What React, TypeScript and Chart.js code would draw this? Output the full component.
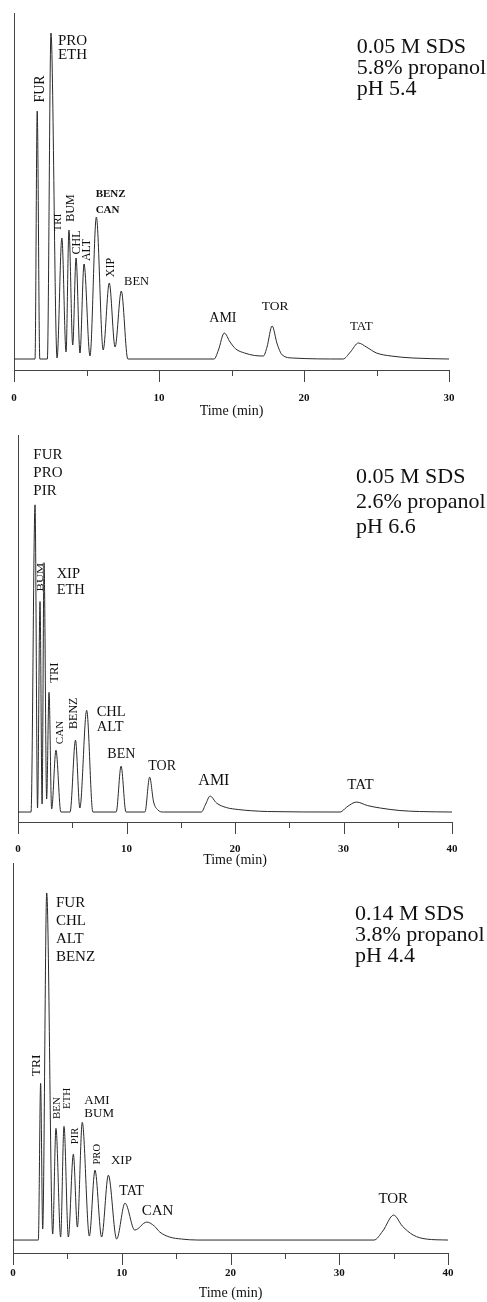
import React, { useEffect, useRef } from 'react';
import { Chart, registerables } from 'chart.js';

Chart.register(...registerables);

// ---------- DATA ----------
// Panel 1: 0.05 M SDS, 5.8% propanol, pH 5.4
const p1Time = [0, 1.45, 1.6, 1.78, 2.3, 2.55, 2.97, 3.3, 3.59, 3.79, 4.05, 4.28, 4.55, 4.83, 5.24, 5.68, 6.15, 6.57, 6.97, 7.4, 7.85, 13.8, 14.1, 14.5, 14.9, 15.3, 15.9, 16.6, 17.2, 17.45, 17.8, 18.15, 18.5, 19.2, 22.7, 23.2, 23.75, 24.3, 25.0, 26.0, 27.5, 30];
const p1Signal = [0, 0, 248, 0, 0, 326, 1, 121, 7, 129, 14, 101, 6, 95, 3, 142, 9, 76, 12, 68, 0, 0, 9, 26, 17, 10, 6, 3.5, 3, 12, 33, 15, 4, 1, 0, 7, 16, 12, 6, 3, 1, 0];
const p1PeakTexts = ['FUR', 'PRO\nETH', 'TRI', 'BUM', 'CHL', 'ALT', 'BENZ\nCAN', 'XIP', 'BEN', 'AMI', 'TOR', 'TAT'];
const p1Conditions = ['0.05 M SDS', '5.8% propanol', 'pH 5.4'];
const p1XMax = 30;

// Panel 2: 0.05 M SDS, 2.6% propanol, pH 6.6
const p2Time = [0, 1.2, 1.57, 1.8, 2.03, 2.22, 2.4, 2.64, 2.86, 3.1, 3.5, 3.95, 4.8, 5.3, 5.7, 6.33, 6.9, 9.05, 9.5, 9.95, 11.7, 12.13, 12.5, 12.9, 13.4, 16.9, 17.3, 17.7, 18.3, 19.2, 20.3, 21.5, 23, 29.7, 30.3, 31.2, 32.2, 33.4, 35.2, 37, 40];
const p2Signal = [0, 0, 308, 4, 211, 8, 250, 13, 120, 3, 62, 0, 0, 72, 4, 102, 0, 0, 46, 0, 0, 35, 10, 2, 0, 0, 8, 16, 9, 4.5, 2.5, 1.3, 0.5, 0, 5, 10, 6.5, 4, 1.5, 0.5, 0];
const p2PeakTexts = ['FUR\nPRO\nPIR', 'BUM', 'XIP\nETH', 'TRI', 'CAN', 'BENZ', 'CHL\nALT', 'BEN', 'TOR', 'AMI', 'TAT'];
const p2Conditions = ['0.05 M SDS', '2.6% propanol', 'pH 6.6'];
const p2XMax = 40;

// Panel 3: 0.14 M SDS, 3.8% propanol, pH 4.4
const p3Time = [0, 2.33, 2.54, 2.73, 3.1, 3.65, 3.95, 4.38, 4.69, 5.09, 5.55, 5.92, 6.37, 7.02, 7.54, 8.15, 8.77, 9.53, 10.3, 11.2, 12.3, 13.0, 13.5, 14.4, 15.5, 17, 33.2, 34.0, 35.0, 35.8, 36.8, 38.0, 40];
const p3Signal = [0, 0, 157, 11, 348, 6, 112, 3, 114, 3, 86, 13, 118, 4, 70, 3, 65, 1, 37, 10, 18, 14, 8, 3, 1, 0, 0, 9, 25, 14, 5, 1, 0];
const p3PeakTexts = ['FUR\nCHL\nALT\nBENZ', 'TRI', 'BEN', 'ETH', 'PIR', 'AMI\nBUM', 'PRO', 'XIP', 'TAT', 'CAN', 'TOR'];
const p3Conditions = ['0.14 M SDS', '3.8% propanol', 'pH 4.4'];
const p3XMax = 40;

const xTitle = 'Time (min)';
const tickStep = 5;
const tickLabelStep = 10;

// ---------- LAYOUT / STYLE ----------
const SERIF = "'Liberation Serif', 'DejaVu Serif', 'Times New Roman', serif";
const AXIS = '#444';
const TRACE = '#2a2a2a';
const INK = '#111';

type LabelLayout = { t: number; s: number; rot?: boolean; size: number; gap?: number; bold?: boolean; stretch?: number };

const p1Layout: LabelLayout[] = [
  { t: 1.83, s: 270, rot: true, size: 14 },
  { t: 3.03, s: 317.7, size: 15, gap: 14 },
  { t: 3.07, s: 136.5, rot: true, size: 11 },
  { t: 3.93, s: 151, rot: true, size: 12 },
  { t: 4.31, s: 116.5, rot: true, size: 12 },
  { t: 4.99, s: 109, rot: true, size: 12 },
  { t: 5.63, s: 164.5, size: 11, gap: 15.5, bold: true },
  { t: 6.66, s: 91.5, rot: true, size: 12 },
  { t: 7.59, s: 77, size: 12.5 },
  { t: 13.47, s: 40.7, size: 14 },
  { t: 17.08, s: 53, size: 13.5 },
  { t: 23.17, s: 32.3, size: 13 },
];
const p2Layout: LabelLayout[] = [
  { t: 1.41, s: 358, size: 15, gap: 18 },
  { t: 2.06, s: 235.5, rot: true, size: 9, stretch: 1.4 },
  { t: 3.56, s: 238, size: 14.5, gap: 16 },
  { t: 3.34, s: 139.7, rot: true, size: 12.5 },
  { t: 3.87, s: 79.7, rot: true, size: 11 },
  { t: 5.18, s: 99, rot: true, size: 12 },
  { t: 7.25, s: 99.7, size: 14.5, gap: 15 },
  { t: 8.23, s: 58, size: 14 },
  { t: 12.01, s: 46.3, size: 14 },
  { t: 16.62, s: 31.3, size: 16 },
  { t: 30.35, s: 27, size: 15 },
];
const p3Layout: LabelLayout[] = [
  { t: 3.95, s: 338, size: 15, gap: 18 },
  { t: 2.13, s: 175, rot: true, size: 13.5 },
  { t: 4.05, s: 132.3, rot: true, size: 11 },
  { t: 5.01, s: 142, rot: true, size: 11 },
  { t: 5.7, s: 104.3, rot: true, size: 10.5 },
  { t: 6.56, s: 140.3, size: 13, gap: 13.5 },
  { t: 7.77, s: 86, rot: true, size: 10.5 },
  { t: 9.01, s: 79.3, size: 13 },
  { t: 9.78, s: 49.3, size: 14 },
  { t: 11.83, s: 29.3, size: 15 },
  { t: 33.6, s: 41, size: 15 },
];

type PanelCfg = {
  top: number; height: number;
  pad: { top: number; left: number; right: number };
  xScaleHeight: number; tickPad: number;
  yMin: number; yMax: number; xMax: number;
  time: number[]; signal: number[];
  texts: string[]; layout: LabelLayout[];
  cond: string[]; condAt: { t: number; s: number; gap: number; size: number };
};

const panels: PanelCfg[] = [
  {
    top: 0, height: 420, pad: { top: 13, left: 14, right: 38 }, xScaleHeight: 50, tickPad: 22,
    yMin: -11, yMax: 346, xMax: p1XMax, time: p1Time, signal: p1Signal,
    texts: p1PeakTexts, layout: p1Layout, cond: p1Conditions,
    condAt: { t: 23.63, s: 311.5, gap: 21, size: 22 },
  },
  {
    top: 420, height: 449, pad: { top: 15, left: 18, right: 35 }, xScaleHeight: 47, tickPad: 21,
    yMin: -10, yMax: 378, xMax: p2XMax, time: p2Time, signal: p2Signal,
    texts: p2PeakTexts, layout: p2Layout, cond: p2Conditions,
    condAt: { t: 31.15, s: 335.5, gap: 25, size: 22 },
  },
  {
    top: 850, height: 452, pad: { top: 13, left: 13, right: 39 }, xScaleHeight: 49, tickPad: 14,
    yMin: -13, yMax: 378, xMax: p3XMax, time: p3Time, signal: p3Signal,
    texts: p3PeakTexts, layout: p3Layout, cond: p3Conditions,
    condAt: { t: 31.45, s: 327, gap: 21, size: 22 },
  },
];

const annotPlugin = {
  id: 'annot',
  afterDraw(chart: any, _args: any, opts: any) {
    const { ctx } = chart;
    const x = chart.scales.x;
    const y = chart.scales.y;
    ctx.save();
    // tick marks (major every 10 min, minor every 5 min)
    ctx.strokeStyle = AXIS;
    ctx.lineWidth = 1;
    x.ticks.forEach((tk: any) => {
      const px = Math.round(x.getPixelForValue(tk.value)) + 0.5;
      const len = tk.value % tickLabelStep === 0 ? 12 : 6;
      ctx.beginPath();
      ctx.moveTo(px, x.top);
      ctx.lineTo(px, x.top + len);
      ctx.stroke();
    });
    // peak labels
    ctx.fillStyle = INK;
    const texts: string[] = opts.texts || [];
    const layout: LabelLayout[] = opts.layout || [];
    texts.forEach((txt, i) => {
      const L = layout[i];
      if (!L) return;
      const px = x.getPixelForValue(L.t);
      const py = y.getPixelForValue(L.s);
      ctx.font = `${L.bold ? 'bold ' : ''}${L.size}px ${SERIF}`;
      if (L.rot) {
        ctx.save();
        ctx.translate(px, py);
        ctx.rotate(-Math.PI / 2);
        if (L.stretch) ctx.scale(L.stretch, 1);
        ctx.textAlign = 'center';
        ctx.textBaseline = 'middle';
        ctx.fillText(txt, 0, 0);
        ctx.restore();
      } else {
        ctx.textAlign = 'left';
        ctx.textBaseline = 'middle';
        txt.split('\n').forEach((line, k) => {
          ctx.fillText(line, px, py + k * (L.gap || 0));
        });
      }
    });
    // condition text
    const c = opts.condAt;
    if (c) {
      ctx.font = `${c.size}px ${SERIF}`;
      ctx.textAlign = 'left';
      ctx.textBaseline = 'middle';
      const px = x.getPixelForValue(c.t);
      const py = y.getPixelForValue(c.s);
      (opts.cond as string[]).forEach((line, k) => ctx.fillText(line, px, py + k * c.gap));
    }
    ctx.restore();
  },
};

function Panel({ cfg }: { cfg: PanelCfg }) {
  const ref = useRef<HTMLCanvasElement | null>(null);
  useEffect(() => {
    if (!ref.current) return;
    const chart = new Chart(ref.current, {
      type: 'line',
      data: {
        datasets: [
          {
            data: cfg.time.map((t, i) => ({ x: t, y: cfg.signal[i] })),
            borderColor: TRACE,
            borderWidth: 1,
            pointRadius: 0,
            fill: false,
            cubicInterpolationMode: 'monotone',
          },
        ],
      },
      options: {
        animation: false,
        responsive: false,
        maintainAspectRatio: false,
        devicePixelRatio: 1,
        events: [],
        layout: { padding: { top: cfg.pad.top, left: cfg.pad.left, right: cfg.pad.right, bottom: 0 } },
        plugins: {
          legend: { display: false },
          tooltip: { enabled: false },
          annot: { texts: cfg.texts, layout: cfg.layout, cond: cfg.cond, condAt: cfg.condAt },
        } as any,
        scales: {
          x: {
            type: 'linear',
            min: 0,
            max: cfg.xMax,
            afterFit: (s: any) => { s.height = cfg.xScaleHeight; s.paddingLeft = 0; s.paddingRight = 0; },
            border: { display: true, color: AXIS, width: 1 },
            grid: { display: false, drawTicks: true, tickLength: cfg.tickPad },
            ticks: {
              stepSize: tickStep,
              autoSkip: false,
              maxRotation: 0,
              padding: 0,
              color: INK,
              font: { family: SERIF, size: 11, weight: 'bold' },
              callback: (v: any) => (Number(v) % tickLabelStep === 0 ? String(v) : ''),
            },
            title: {
              display: true,
              text: xTitle,
              color: INK,
              font: { family: SERIF, size: 14 },
              padding: { top: 0, bottom: 0 },
            },
          },
          y: {
            type: 'linear',
            min: cfg.yMin,
            max: cfg.yMax,
            afterFit: (s: any) => { s.width = 0; },
            border: { display: true, color: AXIS, width: 1 },
            grid: { display: false, drawTicks: false },
            ticks: { display: false },
          },
        },
      } as any,
      plugins: [annotPlugin],
    });
    return () => chart.destroy();
  }, [cfg]);
  return (
    <canvas
      ref={ref}
      width={487}
      height={cfg.height}
      style={{ position: 'absolute', left: 0, top: cfg.top, width: 487, height: cfg.height }}
    />
  );
}

export default function App() {
  return (
    <div style={{ position: 'absolute', left: 0, top: 0, width: 487, height: 1302, background: '#fff', overflow: 'hidden' }}>
      {panels.map((p, i) => (
        <Panel key={i} cfg={p} />
      ))}
    </div>
  );
}
